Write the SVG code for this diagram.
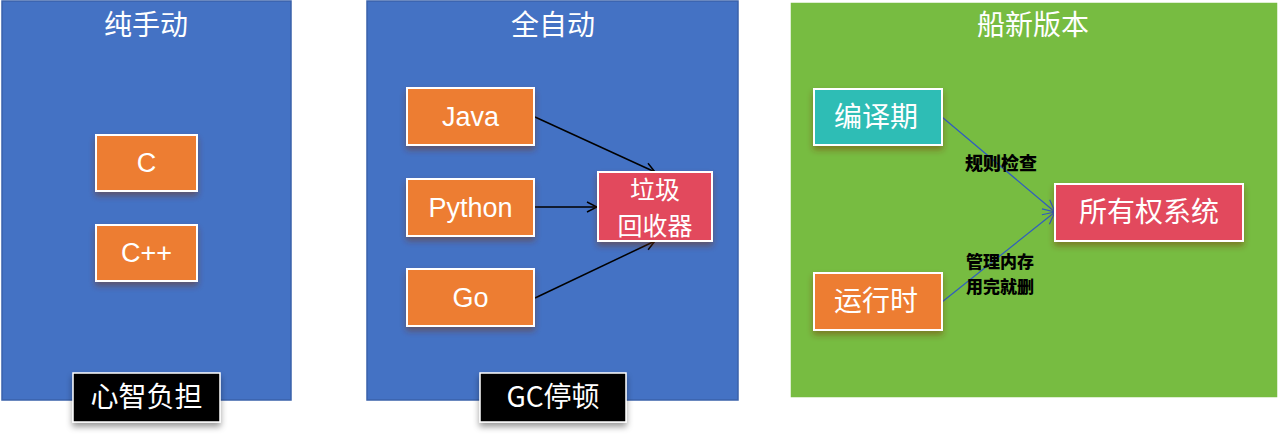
<svg xmlns="http://www.w3.org/2000/svg" width="1280" height="438" viewBox="0 0 1280 438">
<defs>
<style>
.panel-blue{fill:#4472C4;stroke:#3A62AA;stroke-width:1.5}
.panel-green{fill:#77BC41;stroke:#ffffff;stroke-width:1.5}
.box{stroke:#ffffff;stroke-width:2;filter:url(#sh)}
.orange{fill:#ED7D31}
.red{fill:#E2495D}
.teal{fill:#2EBDB5}
.black{fill:#000000;stroke:#ffffff;stroke-width:1.5;filter:url(#sh2)}
.title{font-family:"Noto Sans CJK SC","Liberation Sans",sans-serif;font-size:28px;fill:#ffffff;text-anchor:middle}
.lbl{font-family:"Liberation Sans","Noto Sans CJK SC",sans-serif;font-size:27px;fill:#ffffff;text-anchor:middle}
.cjk{font-family:"Noto Sans CJK SC",sans-serif;font-size:28px;fill:#ffffff;text-anchor:middle}
.note{font-family:"Noto Sans CJK SC",sans-serif;font-size:18px;font-weight:900;fill:#000000}
.conn{stroke:#000000;stroke-width:1.5;fill:none;marker-end:url(#ah)}
.conn2{stroke:#2F5BC2;stroke-width:1.2;fill:none;marker-end:url(#ah2)}
</style>
<filter id="sh" x="-20%" y="-20%" width="140%" height="160%">
<feDropShadow dx="0" dy="4" stdDeviation="3" flood-color="#7a2a10" flood-opacity="0.45"/>
</filter>
<filter id="sh2" x="-20%" y="-20%" width="140%" height="160%">
<feDropShadow dx="0" dy="4" stdDeviation="3" flood-color="#000000" flood-opacity="0.4"/>
</filter>
<marker id="ah" viewBox="0 0 12 12" refX="11" refY="6" markerWidth="12" markerHeight="12" markerUnits="userSpaceOnUse" orient="auto">
<path d="M1,1 L11,6 L1,11" fill="none" stroke="#000000" stroke-width="1.5"/>
</marker>
<marker id="ah2" viewBox="0 0 14 14" refX="13" refY="7" markerWidth="14" markerHeight="14" markerUnits="userSpaceOnUse" orient="auto">
<path d="M1,1 L13,7 L1,13" fill="none" stroke="#2F5BC2" stroke-width="1.2"/>
</marker>
</defs>
<rect width="1280" height="438" fill="#ffffff"/>

<g id="panel-manual">
<rect class="panel-blue" x="2" y="1" width="289" height="399"/>
<text class="title" x="146" y="35">纯手动</text>
</g>
<g id="panel-auto">
<rect class="panel-blue" x="367" y="1" width="371" height="399"/>
<text class="title" x="553" y="35">全自动</text>
</g>
<g id="panel-new">
<rect class="panel-green" x="790" y="2" width="488" height="396"/>
<text class="title" x="1033" y="35">船新版本</text>
</g>

<g id="connectors">
<line class="conn" x1="535" y1="117" x2="655" y2="172"/>
<line class="conn" x1="535" y1="207" x2="597" y2="207"/>
<line class="conn" x1="535" y1="298" x2="655" y2="241"/>
<line class="conn2" x1="942" y1="117" x2="1055" y2="212"/>
<line class="conn2" x1="942" y1="302" x2="1055" y2="212"/>
<text class="note" x="965" y="170">规则检查</text>
<text class="note" x="966" y="268" style="font-size:17px">管理内存<tspan x="966" dy="25">用完就删</tspan></text>
</g>

<g id="node-c">
<rect class="box orange" x="96" y="135" width="101" height="56"/>
<text class="lbl" x="146.5" y="172">C</text>
</g>
<g id="node-cpp">
<rect class="box orange" x="96" y="225" width="101" height="56"/>
<text class="lbl" x="146.5" y="262">C++</text>
</g>
<g id="node-mental">
<rect class="black" x="73" y="373" width="147" height="49"/>
<text class="cjk" x="146.5" y="407">心智负担</text>
</g>

<g id="node-java">
<rect class="box orange" x="407" y="88" width="127" height="57"/>
<text class="lbl" x="470.5" y="126">Java</text>
</g>
<g id="node-python">
<rect class="box orange" x="407" y="179" width="127" height="57"/>
<text class="lbl" x="470.5" y="217">Python</text>
</g>
<g id="node-go">
<rect class="box orange" x="407" y="269" width="127" height="57"/>
<text class="lbl" x="470.5" y="307">Go</text>
</g>
<g id="node-gc">
<rect class="box red" x="598" y="172" width="114" height="69"/>
<text class="cjk" x="655" y="199" style="font-size:25px">垃圾<tspan x="655" dy="36">回收器</tspan></text>
</g>
<g id="node-pause">
<rect class="black" x="480" y="373" width="146" height="49"/>
<text class="cjk" x="553" y="407">GC停顿</text>
</g>

<g id="node-compile">
<rect class="box teal" x="814" y="89" width="128" height="56"/>
<text class="cjk" x="876" y="127">编译期</text>
</g>
<g id="node-runtime">
<rect class="box orange" x="814" y="273" width="128" height="57"/>
<text class="cjk" x="876" y="311">运行时</text>
</g>
<g id="node-ownership">
<rect class="box red" x="1055" y="184" width="188" height="57"/>
<text class="cjk" x="1149" y="222">所有权系统</text>
</g>
</svg>
